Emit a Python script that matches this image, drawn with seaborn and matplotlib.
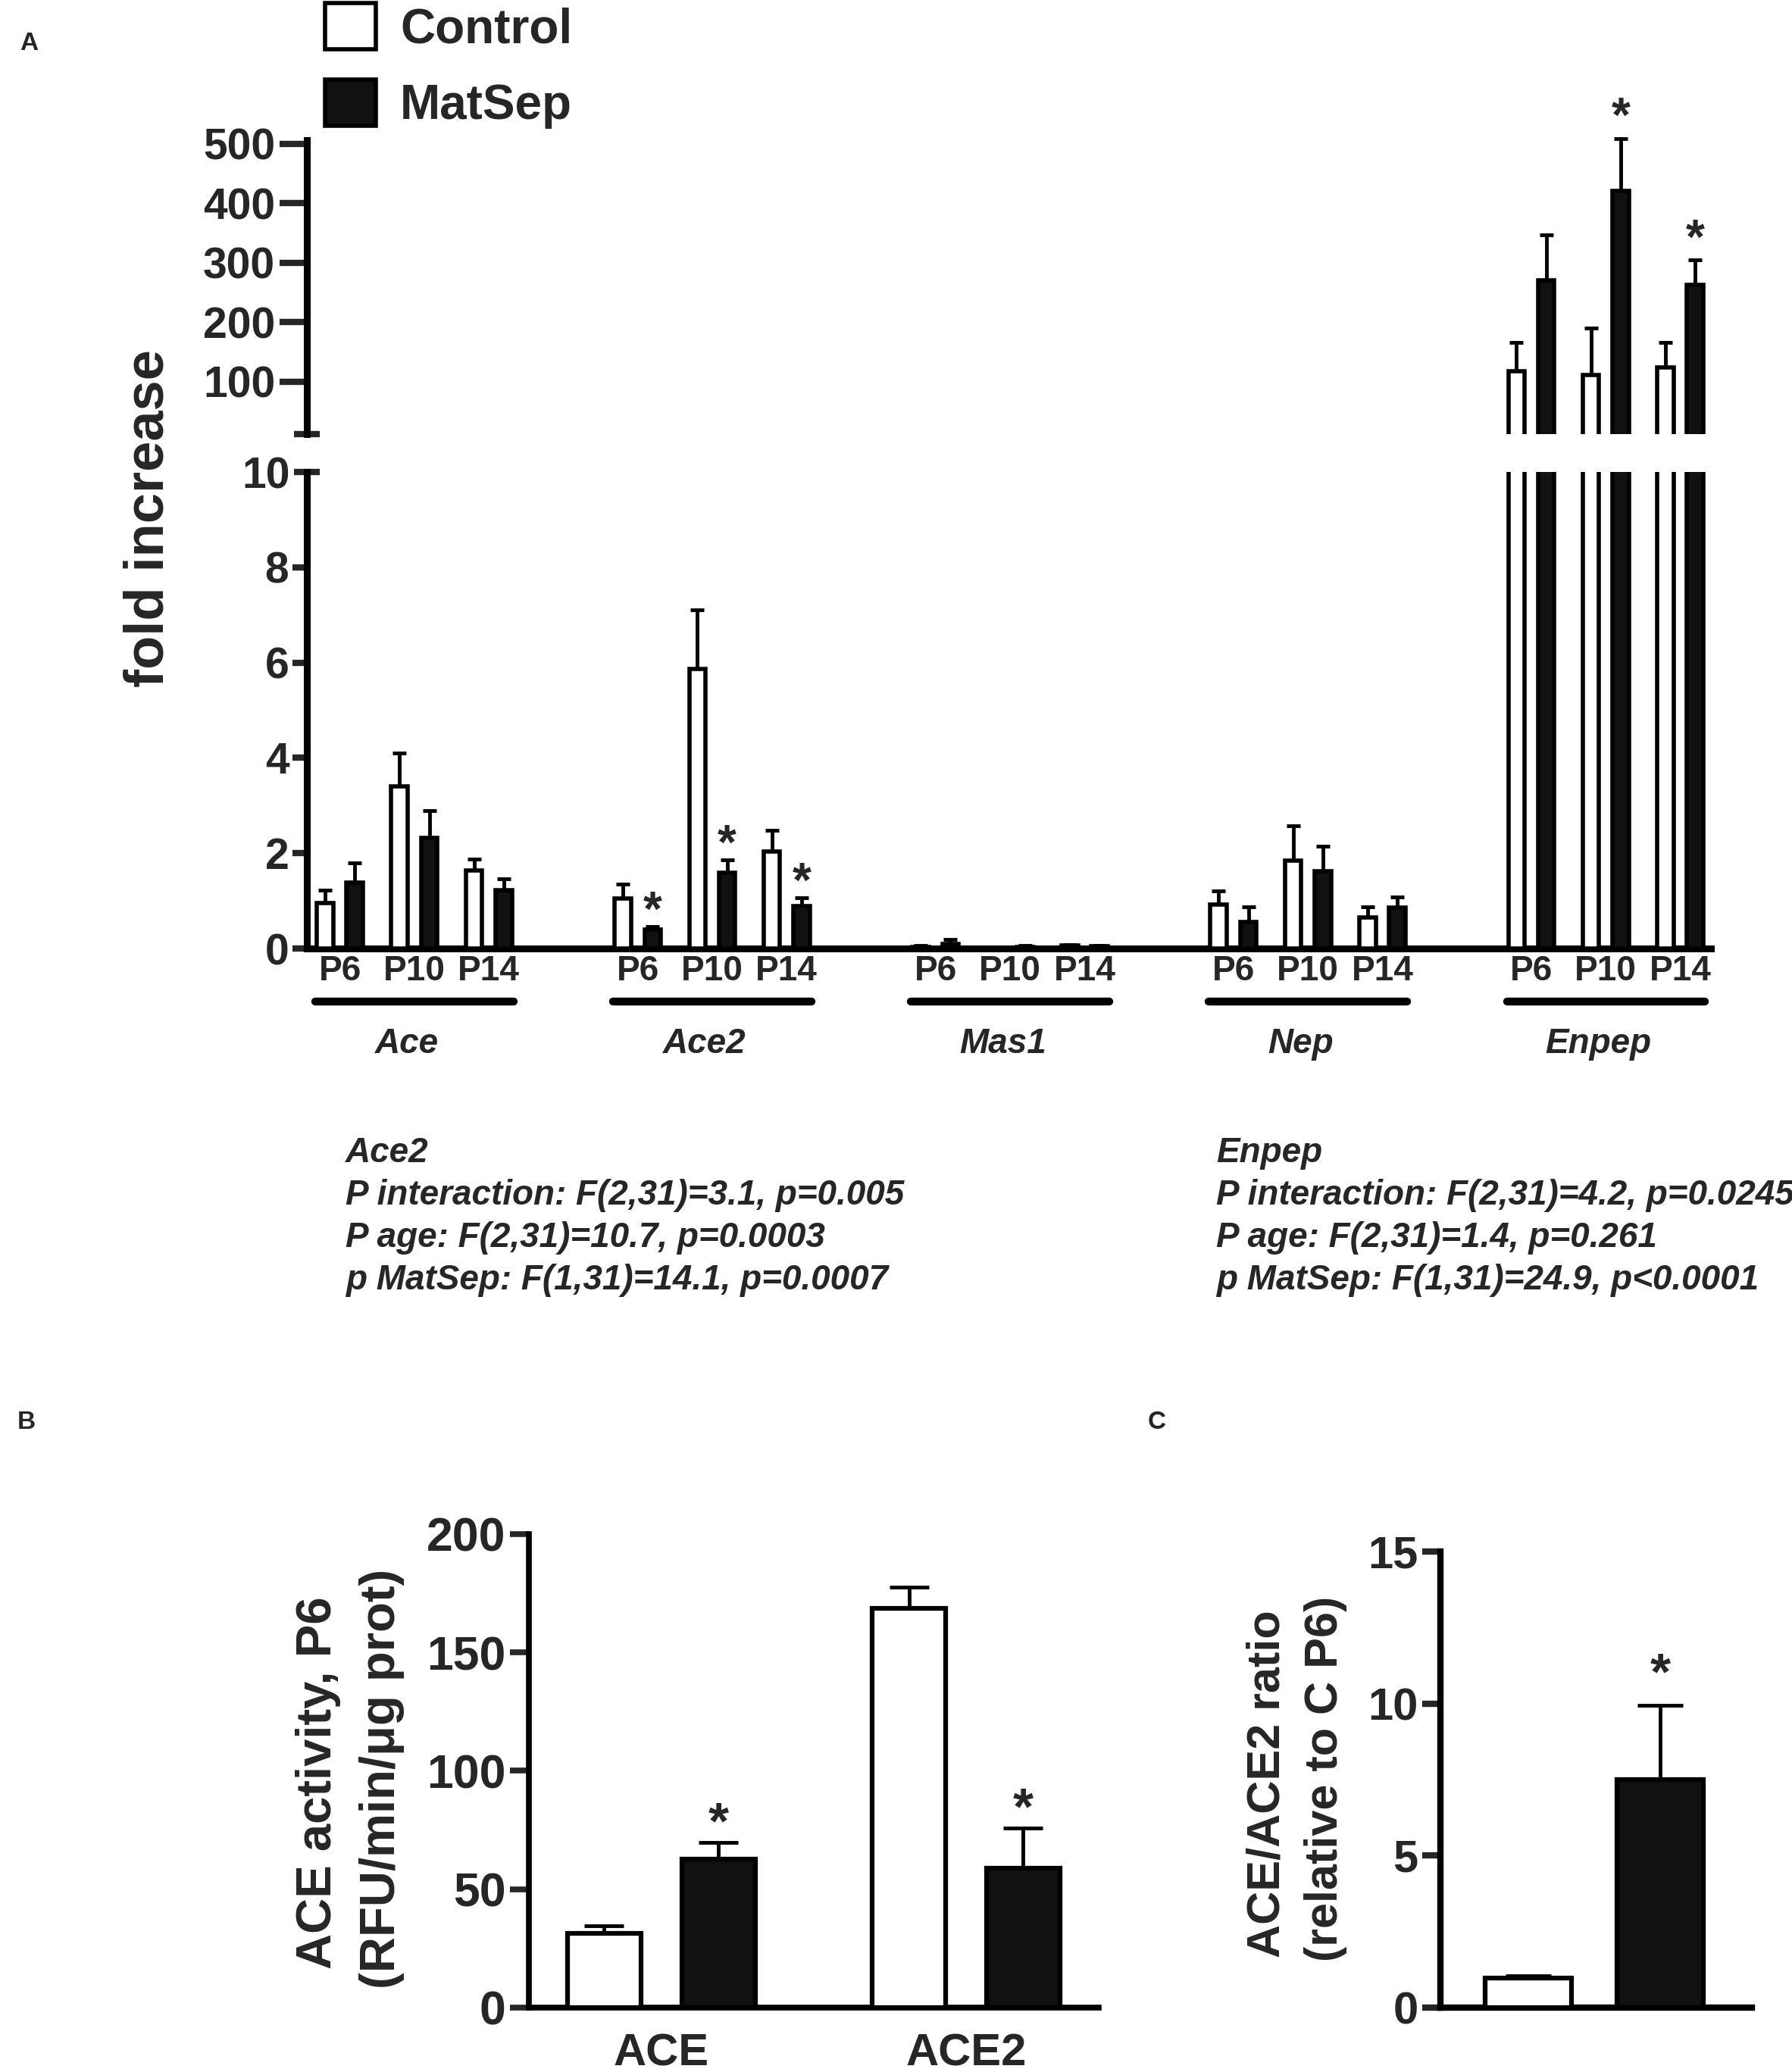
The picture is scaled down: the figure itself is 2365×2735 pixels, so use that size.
import matplotlib
matplotlib.use('Agg')
import matplotlib.pyplot as plt
import pandas as pd
import seaborn as sns

# ---- panel A: qPCR fold increase (order: gene, then age) ----
genes = ['Ace', 'Ace2', 'Mas1', 'Nep', 'Enpep']
ages = ['P6', 'P10', 'P14']
groups = ['Control', 'MatSep']

control_mean = [0.95, 3.41, 1.64, 1.05, 5.86, 2.04, 0.04, 0.02, 0.06, 0.93, 1.85, 0.65, 118, 111, 124]
control_sem = [0.27, 0.69, 0.24, 0.30, 1.24, 0.44, 0.02, 0.02, 0.02, 0.28, 0.73, 0.22, 48, 79, 42]
matsep_mean = [1.39, 2.32, 1.22, 0.40, 1.59, 0.89, 0.10, 0.04, 0.05, 0.56, 1.62, 0.86, 271, 420, 263]
matsep_sem = [0.40, 0.58, 0.24, 0.06, 0.27, 0.17, 0.10, 0.02, 0.02, 0.31, 0.52, 0.22, 76, 89, 42]
matsep_sig = [False, False, False, True, True, True, False, False, False,
              False, False, False, False, True, True]

ace2_stats = ['Ace2',
              'P interaction: F(2,31)=3.1, p=0.005',
              'P age: F(2,31)=10.7, p=0.0003',
              'p MatSep: F(1,31)=14.1, p=0.0007']
enpep_stats = ['Enpep',
               'P interaction: F(2,31)=4.2, p=0.0245',
               'P age: F(2,31)=1.4, p=0.261',
               'p MatSep: F(1,31)=24.9, p<0.0001']

# ---- panel B: ACE / ACE2 activity at P6 ----
b_enzymes = ['ACE', 'ACE2']
b_control = [31.5, 168.5]
b_control_sem = [3.0, 9.0]
b_matsep = [62.7, 58.8]
b_matsep_sem = [7.0, 17.0]
b_sig = [True, True]

# ---- panel C: ACE/ACE2 ratio ----
c_mean = [0.97, 7.5]
c_sem = [0.07, 2.45]
c_sig = [False, True]

palette = {'Control': 'white', 'MatSep': '#111111'}

sns.set_style('ticks')
plt.rcParams['font.family'] = ['Liberation Sans', 'DejaVu Sans']
plt.rcParams['font.weight'] = 'bold'
plt.rcParams['axes.edgecolor'] = 'black'

W, H = 2365, 2735
fig = plt.figure(figsize=(W / 100, H / 100), dpi=100)

slot = 4  # three ages + one empty slot between genes
rows = []
for gi, gene in enumerate(genes):
    for ai, age in enumerate(ages):
        k = gi * 3 + ai
        for grp, m, s, sig in [('Control', control_mean[k], control_sem[k], False),
                               ('MatSep', matsep_mean[k], matsep_sem[k], matsep_sig[k])]:
            rows.append(dict(gene=gene, age=age, pos=gi * slot + ai, group=grp,
                             mean=m, sem=s, sig=sig))
df = pd.DataFrame(rows)


def bar_rows(ax, table, key):
    """pair each drawn bar with its row of the table"""
    out = []
    for cont in ax.containers:
        for p in cont:
            if p.get_width() <= 0:
                continue
            x = p.get_x() + p.get_width() / 2
            grp = 'Control' if p.get_facecolor()[0] > 0.5 else 'MatSep'
            r = table[(table[key] == round(x)) & (table['group'] == grp)].iloc[0]
            out.append((x, r))
    return out


def add_errors(ax, table, key, capsize, lw, star_off, star_size, ymin=None,
               ymax=None, clip=True):
    items = bar_rows(ax, table, key)
    if ymin is not None:
        items = [it for it in items if it[1]['mean'] > ymin]
    xs = [x for x, r in items]
    ys = [r['mean'] for x, r in items]
    es = [r['sem'] for x, r in items]
    ax.errorbar(xs, ys, yerr=[[0] * len(es), es], fmt='none', ecolor='black',
                elinewidth=lw, capsize=capsize, capthick=lw, zorder=2, clip_on=clip)
    for x, r in items:
        top = r['mean'] + r['sem']
        if r['sig'] and (ymax is None or top <= ymax):
            ax.annotate('*', (x, top), xytext=(0, star_off),
                        textcoords='offset points', ha='center', va='baseline',
                        fontsize=star_size, annotation_clip=False)


# ---------------- panel A ----------------
ax_hi = fig.add_axes([0.1712, 0.7905, 0.7835, 0.1419])
ax_lo = fig.add_axes([0.1712, 0.5422, 0.7835, 0.2300])

for ax, leg in [(ax_hi, False), (ax_lo, True)]:
    sns.barplot(data=df, x='pos', y='mean', hue='group', hue_order=groups,
                palette=palette, native_scale=True, width=0.8, gap=0.45,
                errorbar=None, edgecolor='black', linewidth=4, legend=leg,
                ax=ax, zorder=3)
    ax.set_xlim(-0.445, 18.41)
    ax.set_xlabel('')
    ax.set_ylabel('')
    for s in ['top', 'right']:
        ax.spines[s].set_visible(False)
    for s in ['left', 'bottom']:
        ax.spines[s].set_linewidth(6.5)

add_errors(ax_lo, df, 'pos', capsize=6.5, lw=3.5, star_off=1, star_size=46, ymax=10)
add_errors(ax_hi, df, 'pos', capsize=6.5, lw=3.5, star_off=6, star_size=46,
           ymin=12, clip=False)

ax_lo.set_ylim(0, 10)
ax_lo.set_yticks([0, 2, 4, 6, 8])
ax_lo.set_yticks([10], minor=True)
ax_lo.set_yticklabels(['10'], minor=True)
ax_lo.tick_params(axis='y', which='major', length=14, width=6, labelsize=41, pad=3)
ax_lo.tick_params(axis='y', which='minor', direction='inout', length=25, width=6,
                  labelsize=41, pad=3)
ax_lo.set_xticks(sorted(df['pos'].unique()))
ax_lo.set_xticklabels(ages * len(genes))
ax_lo.tick_params(axis='x', length=0, labelsize=33, pad=6)

ax_hi.set_ylim(12, 506)
ax_hi.set_yticks([100, 200, 300, 400, 500])
ax_hi.set_yticks([12], minor=True)
ax_hi.set_yticklabels([''], minor=True)
ax_hi.tick_params(axis='y', which='major', length=26, width=6, labelsize=41, pad=4)
ax_hi.tick_params(axis='y', which='minor', direction='inout', length=25, width=6)
ax_hi.spines['bottom'].set_visible(False)
ax_hi.set_xticks([])

xt = ax_lo.get_xaxis_transform()
for gi, gene in enumerate(genes):
    c = gi * slot + 1
    ax_lo.plot([c - 1.33, c + 1.33], [-0.111, -0.111], transform=xt, color='black',
               lw=7.5, solid_capstyle='round', clip_on=False)
    ax_lo.text(c - 0.1, -0.2, gene, transform=xt, ha='center', va='center',
               style='italic', fontsize=33)

fig.text(196 / W, 1 - 684 / H, 'fold increase', rotation=90, ha='center',
         va='center', fontsize=52)

sns.move_legend(ax_lo, 'upper left', bbox_to_anchor=(429 / W, 1 - 4 / H),
                bbox_transform=fig.transFigure, frameon=False, title=None,
                fontsize=46, handlelength=1.05, handleheight=1.1,
                handletextpad=0.5, labelspacing=0.55, borderpad=0,
                borderaxespad=0)

for lines, x0 in [(ace2_stats, 456), (enpep_stats, 1605)]:
    for i, line in enumerate(lines):
        fig.text(x0 / W, 1 - (1522 + 56 * i) / H, line, ha='left', va='center',
                 style='italic', fontsize=33)

# ---------------- panel B ----------------
b_df = pd.DataFrame({
    'enzyme': b_enzymes * 2,
    'group': ['Control'] * 2 + ['MatSep'] * 2,
    'mean': b_control + b_matsep,
    'sem': b_control_sem + b_matsep_sem,
    'sig': [False, False] + b_sig,
})
b_df['idx'] = [b_enzymes.index(e) for e in b_df['enzyme']]

ax_b = fig.add_axes([0.2951, 0.0311, 0.318, 0.2285])
sns.barplot(data=b_df, x='enzyme', y='mean', hue='group', hue_order=groups,
            order=b_enzymes, palette=palette, width=0.75, gap=0.36,
            errorbar=None, edgecolor='black', linewidth=4.5, legend=False,
            ax=ax_b, zorder=3)
add_errors(ax_b, b_df, 'idx', capsize=19, lw=3.5, star_off=4, star_size=50)
ax_b.set_xlim(-0.435, 1.435)
ax_b.set_ylim(0, 200)
ax_b.set_yticks([0, 50, 100, 150, 200])
ax_b.tick_params(axis='y', length=18, width=5.5, labelsize=45, pad=4)
ax_b.tick_params(axis='x', length=0, labelsize=43, pad=24)
ax_b.set_xlabel('')
ax_b.set_ylabel('')
for s in ['top', 'right']:
    ax_b.spines[s].set_visible(False)
for s in ['left', 'bottom']:
    ax_b.spines[s].set_linewidth(5.5)

fig.text(420 / W, 1 - 2353 / H, 'ACE activity, P6', rotation=90, ha='center',
         va='center', fontsize=47)
fig.text(504 / W, 1 - 2348 / H, '(RFU/min/\u03bcg prot)', rotation=90, ha='center',
         va='center', fontsize=47)

# ---------------- panel C ----------------
c_df = pd.DataFrame({'group': groups, 'mean': c_mean, 'sem': c_sem, 'sig': c_sig})
c_df['idx'] = [0, 1]

ax_c = fig.add_axes([0.8038, 0.0311, 0.1738, 0.2201])
sns.barplot(data=c_df, x='group', y='mean', hue='group', hue_order=groups,
            order=groups, palette=palette, width=0.655, errorbar=None,
            edgecolor='black', linewidth=4.5, legend=False, ax=ax_c, zorder=3)
add_errors(ax_c, c_df, 'idx', capsize=21.5, lw=3.5, star_off=15, star_size=50)
ax_c.set_xlim(-0.667, 1.695)
ax_c.set_ylim(0, 15)
ax_c.set_yticks([0, 5, 10, 15])
ax_c.set_xticks([])
ax_c.tick_params(axis='y', length=17.6, width=6, labelsize=43, pad=3.6)
ax_c.set_xlabel('')
ax_c.set_ylabel('')
for s in ['top', 'right']:
    ax_c.spines[s].set_visible(False)
for s in ['left', 'bottom']:
    ax_c.spines[s].set_linewidth(6)

fig.text(1673 / W, 1 - 2355 / H, 'ACE/ACE2 ratio', rotation=90, ha='center',
         va='center', fontsize=44)
fig.text(1749 / W, 1 - 2348 / H, '(relative to C P6)', rotation=90, ha='center',
         va='center', fontsize=44)

# panel letters
for letter, (px, py) in [('A', (38, 57)), ('B', (35, 1878)), ('C', (1527, 1878))]:
    fig.text(px / W, 1 - py / H, letter, ha='center', va='center', fontsize=24)

fig.savefig('out.png', dpi=100)
